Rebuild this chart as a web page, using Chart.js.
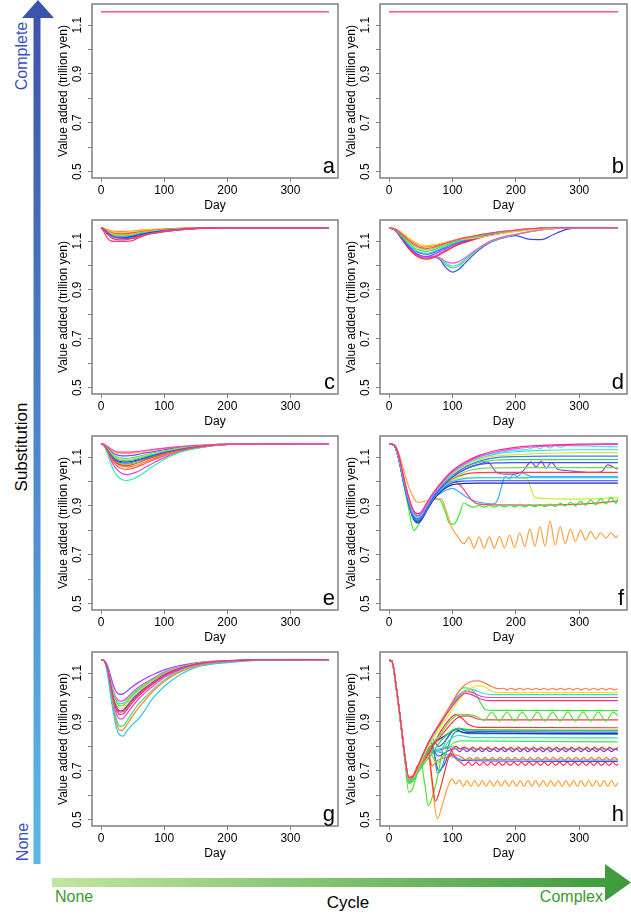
<!DOCTYPE html>
<html>
<head>
<meta charset="utf-8">
<script src="https://cdn.jsdelivr.net/npm/chart.js@4.4.1/dist/chart.umd.min.js"></script>
<style>
  body { margin: 0; width: 631px; height: 922px; background: #fff; position: relative; overflow: hidden; }
  canvas.p { position: absolute; }
  svg { position: absolute; left: 0; top: 0; }
  svg text { font-family: "Liberation Sans", Arial, sans-serif; }
</style>
</head>
<body>
<svg width="631" height="922">
  <defs>
    <linearGradient id="gv" x1="0" y1="1" x2="0" y2="0">
      <stop offset="0" stop-color="#5db8e8"/>
      <stop offset="1" stop-color="#3c52ac"/>
    </linearGradient>
    <linearGradient id="gh" x1="0" y1="0" x2="1" y2="0">
      <stop offset="0" stop-color="#c2e6a2"/>
      <stop offset="1" stop-color="#3b9a3a"/>
    </linearGradient>
  </defs>
  <polygon fill="url(#gv)" points="33.5,864 40.5,864 40.5,18 54,18 38,0 22,18 33.5,18"/>
  <polygon fill="url(#gh)" points="52,878 605,878 605,864 631,882.5 605,901 605,887 52,887"/>
  <text transform="translate(21,56) rotate(-90)" text-anchor="middle" dy="0.35em" font-size="16" fill="#3a4fc4">Complete</text>
  <text transform="translate(21,447) rotate(-90)" text-anchor="middle" dy="0.35em" font-size="17" fill="#000">Substitution</text>
  <text transform="translate(22,842) rotate(-90)" text-anchor="middle" dy="0.35em" font-size="16" fill="#3a4fc4">None</text>
  <text x="55" y="902" font-size="16" fill="#3c9a2c">None</text>
  <text x="348" y="908" text-anchor="middle" font-size="17" fill="#000">Cycle</text>
  <text x="603" y="902" text-anchor="end" font-size="16" fill="#3c9a2c">Complex</text>
</svg>
<script>
// axis ranges (R style, 4% padding)
const xMin = -14.4, xMax = 375.4;
const yMin = 0.4736, yMax = 1.1864;
const xTicks = [0, 100, 200, 300];
const yTicks = [0.5, 0.6, 0.7, 0.8, 0.9, 1.0, 1.1];
const yLabels = [0.5, 0.7, 0.9, 1.1];

// ---- panels a, b : no disruption, flat lines
const daysFlat = [0, 361];
const valsA = [[1.155, 1.155], [1.155, 1.155], [1.155, 1.155]];
const valsB = [[1.155, 1.155], [1.155, 1.155], [1.155, 1.155]];

// ---- panel c
const daysC = [0,5,10,15,20,30,40,50,60,70,80,100,120,140,160,200,361];
const valsC = [
  [1.155,1.135,1.112,1.101,1.099,1.099,1.099,1.102,1.114,1.124,1.131,1.139,1.145,1.149,1.152,1.155,1.155],
  [1.155,1.142,1.128,1.116,1.109,1.105,1.106,1.112,1.120,1.127,1.132,1.140,1.146,1.150,1.153,1.155,1.155],
  [1.155,1.148,1.136,1.125,1.117,1.112,1.110,1.111,1.117,1.124,1.130,1.139,1.145,1.149,1.152,1.155,1.155],
  [1.155,1.145,1.132,1.123,1.116,1.113,1.114,1.119,1.126,1.131,1.136,1.142,1.147,1.151,1.153,1.155,1.155],
  [1.155,1.147,1.136,1.127,1.121,1.117,1.117,1.121,1.127,1.132,1.137,1.143,1.148,1.151,1.153,1.155,1.155],
  [1.155,1.146,1.135,1.127,1.122,1.119,1.120,1.124,1.130,1.134,1.138,1.144,1.148,1.151,1.153,1.155,1.155],
  [1.155,1.148,1.139,1.131,1.126,1.122,1.123,1.126,1.131,1.136,1.139,1.145,1.149,1.152,1.154,1.155,1.155],
  [1.155,1.147,1.138,1.132,1.128,1.125,1.126,1.129,1.134,1.138,1.141,1.146,1.150,1.152,1.154,1.155,1.155],
  [1.155,1.149,1.141,1.135,1.131,1.128,1.128,1.131,1.136,1.140,1.143,1.147,1.150,1.153,1.154,1.155,1.155],
  [1.155,1.149,1.141,1.136,1.132,1.130,1.131,1.134,1.137,1.141,1.143,1.148,1.151,1.153,1.154,1.155,1.155],
  [1.155,1.150,1.144,1.139,1.137,1.135,1.136,1.138,1.141,1.144,1.146,1.149,1.151,1.153,1.154,1.155,1.155],
  [1.155,1.151,1.147,1.143,1.141,1.140,1.140,1.142,1.145,1.146,1.148,1.150,1.152,1.154,1.155,1.155,1.155],
  [1.155,1.149,1.138,1.128,1.121,1.116,1.115,1.117,1.122,1.128,1.133,1.141,1.146,1.150,1.153,1.155,1.155],
  [1.155,1.146,1.134,1.128,1.125,1.123,1.124,1.127,1.132,1.137,1.140,1.145,1.149,1.152,1.154,1.155,1.155]
];

// ---- panel d
const daysD = [0,10,20,30,40,50,60,70,80,90,100,110,120,140,160,180,200,220,240,260,280,300,361];
const valsD = [
  [1.155,1.148,1.128,1.105,1.085,1.073,1.070,1.075,1.083,1.092,1.100,1.107,1.113,1.124,1.133,1.140,1.145,1.150,1.153,1.155,1.155,1.155,1.155],
  [1.155,1.150,1.135,1.115,1.097,1.085,1.082,1.085,1.090,1.096,1.102,1.106,1.108,1.114,1.123,1.132,1.139,1.145,1.150,1.153,1.155,1.155,1.155],
  [1.155,1.149,1.131,1.110,1.091,1.079,1.076,1.080,1.087,1.095,1.102,1.109,1.115,1.125,1.133,1.140,1.145,1.150,1.153,1.155,1.155,1.155,1.155],
  [1.155,1.146,1.121,1.094,1.072,1.061,1.058,1.064,1.074,1.084,1.094,1.102,1.109,1.121,1.131,1.139,1.144,1.149,1.152,1.155,1.155,1.155,1.155],
  [1.155,1.146,1.118,1.088,1.065,1.053,1.050,1.057,1.068,1.079,1.089,1.098,1.106,1.119,1.129,1.137,1.143,1.149,1.152,1.155,1.155,1.155,1.155],
  [1.155,1.145,1.116,1.085,1.062,1.049,1.046,1.053,1.064,1.076,1.087,1.096,1.104,1.117,1.128,1.137,1.143,1.149,1.152,1.155,1.155,1.155,1.155],
  [1.155,1.144,1.112,1.078,1.054,1.040,1.037,1.045,1.057,1.070,1.082,1.092,1.100,1.114,1.126,1.135,1.142,1.148,1.152,1.155,1.155,1.155,1.155],
  [1.155,1.143,1.108,1.072,1.045,1.030,1.026,1.032,1.045,1.060,1.074,1.086,1.095,1.111,1.124,1.134,1.142,1.148,1.152,1.155,1.155,1.155,1.155],
  [1.155,1.144,1.110,1.075,1.050,1.034,1.030,1.036,1.049,1.063,1.077,1.088,1.097,1.112,1.125,1.135,1.142,1.148,1.152,1.155,1.155,1.155,1.155],
  [1.155,1.147,1.125,1.100,1.080,1.068,1.065,1.070,1.079,1.089,1.098,1.106,1.112,1.123,1.132,1.139,1.145,1.150,1.153,1.155,1.155,1.155,1.155],
  [1.155,1.144,1.112,1.078,1.054,1.040,1.036,1.037,1.032,1.016,1.010,1.016,1.032,1.070,1.100,1.117,1.128,1.138,1.146,1.151,1.154,1.155,1.155],
  [1.155,1.144,1.110,1.075,1.050,1.038,1.035,1.037,1.030,1.002,0.990,0.998,1.020,1.065,1.098,1.115,1.127,1.138,1.146,1.151,1.154,1.155,1.155],
  [1.155,1.144,1.111,1.076,1.052,1.039,1.035,1.037,1.031,1.008,0.998,1.005,1.026,1.068,1.099,1.116,1.128,1.138,1.146,1.151,1.154,1.155,1.155],
  [1.155,1.144,1.110,1.075,1.050,1.038,1.035,1.036,1.025,0.990,0.973,0.985,1.010,1.060,1.095,1.113,1.122,1.108,1.106,1.128,1.148,1.154,1.155]
];

// ---- panel e
const daysE = [0,5,10,15,20,25,30,40,50,60,70,80,100,120,140,160,200,361];
const valsE = [
  [1.155,1.152,1.144,1.134,1.127,1.122,1.120,1.120,1.121,1.124,1.127,1.131,1.137,1.142,1.146,1.149,1.153,1.155],
  [1.155,1.148,1.128,1.105,1.088,1.076,1.069,1.065,1.069,1.078,1.088,1.097,1.113,1.126,1.136,1.143,1.152,1.155],
  [1.155,1.145,1.115,1.075,1.045,1.025,1.012,1.004,1.010,1.023,1.040,1.058,1.090,1.115,1.130,1.140,1.152,1.155],
  [1.155,1.146,1.120,1.090,1.066,1.050,1.038,1.028,1.033,1.043,1.058,1.072,1.098,1.118,1.132,1.141,1.152,1.155],
  [1.155,1.147,1.126,1.102,1.085,1.073,1.065,1.060,1.062,1.070,1.080,1.090,1.108,1.122,1.133,1.141,1.152,1.155],
  [1.155,1.148,1.130,1.110,1.094,1.084,1.078,1.075,1.079,1.087,1.095,1.103,1.118,1.129,1.138,1.144,1.152,1.155],
  [1.155,1.149,1.133,1.115,1.101,1.092,1.087,1.085,1.088,1.095,1.102,1.109,1.122,1.132,1.140,1.145,1.153,1.155],
  [1.155,1.149,1.135,1.118,1.104,1.096,1.092,1.090,1.093,1.099,1.106,1.112,1.124,1.134,1.141,1.146,1.153,1.155],
  [1.155,1.150,1.136,1.120,1.108,1.100,1.097,1.095,1.098,1.103,1.109,1.115,1.126,1.135,1.142,1.146,1.153,1.155],
  [1.155,1.151,1.139,1.125,1.115,1.109,1.106,1.105,1.107,1.112,1.117,1.121,1.130,1.138,1.143,1.147,1.153,1.155],
  [1.155,1.148,1.131,1.112,1.097,1.088,1.082,1.080,1.083,1.090,1.098,1.106,1.120,1.130,1.139,1.145,1.152,1.155],
  [1.155,1.152,1.142,1.131,1.123,1.118,1.116,1.115,1.117,1.120,1.124,1.128,1.135,1.141,1.145,1.148,1.153,1.155],
  [1.155,1.148,1.129,1.108,1.091,1.080,1.073,1.070,1.074,1.082,1.091,1.100,1.115,1.127,1.137,1.144,1.152,1.155],
  [1.155,1.147,1.124,1.098,1.078,1.064,1.055,1.050,1.054,1.063,1.074,1.085,1.105,1.121,1.133,1.141,1.152,1.155]
];

// ---- panel g
const daysG = [0,5,10,15,20,25,30,35,40,50,60,70,80,100,120,140,160,200,250,361];
const valsG = [
  [1.155,1.150,1.117,1.052,0.988,0.952,0.940,0.943,0.957,0.988,1.015,1.037,1.056,1.091,1.114,1.130,1.141,1.149,1.154,1.155],
  [1.155,1.150,1.100,1.010,0.930,0.870,0.845,0.842,0.860,0.890,0.915,0.950,0.990,1.045,1.085,1.113,1.130,1.143,1.152,1.155],
  [1.155,1.150,1.105,1.020,0.945,0.890,0.865,0.868,0.885,0.925,0.960,0.990,1.020,1.065,1.098,1.120,1.134,1.146,1.153,1.155],
  [1.155,1.150,1.108,1.030,0.955,0.905,0.882,0.884,0.900,0.940,0.975,1.002,1.028,1.072,1.102,1.123,1.136,1.147,1.153,1.155],
  [1.155,1.150,1.112,1.040,0.970,0.928,0.912,0.915,0.930,0.965,0.995,1.020,1.042,1.082,1.108,1.127,1.138,1.148,1.153,1.155],
  [1.155,1.150,1.115,1.048,0.982,0.945,0.930,0.933,0.947,0.980,1.008,1.031,1.051,1.088,1.112,1.129,1.140,1.149,1.154,1.155],
  [1.155,1.150,1.118,1.055,0.992,0.958,0.945,0.948,0.962,0.993,1.019,1.040,1.058,1.093,1.115,1.131,1.141,1.149,1.154,1.155],
  [1.155,1.151,1.120,1.060,1.000,0.967,0.955,0.958,0.971,1.000,1.025,1.045,1.063,1.096,1.117,1.132,1.142,1.150,1.154,1.155],
  [1.155,1.151,1.122,1.065,1.008,0.976,0.965,0.968,0.980,1.008,1.031,1.050,1.067,1.098,1.118,1.133,1.142,1.150,1.154,1.155],
  [1.155,1.151,1.124,1.070,1.015,0.985,0.975,0.977,0.988,1.015,1.037,1.055,1.071,1.101,1.120,1.134,1.143,1.150,1.154,1.155],
  [1.155,1.151,1.126,1.075,1.022,0.994,0.985,0.987,0.997,1.022,1.043,1.060,1.075,1.104,1.122,1.135,1.143,1.150,1.154,1.155],
  [1.155,1.152,1.132,1.090,1.045,1.020,1.013,1.015,1.024,1.045,1.063,1.078,1.091,1.113,1.128,1.138,1.145,1.151,1.154,1.155]
];

// ---- panel f : smooth lines on a grid + irregular paths [day, value]
const daysF = [0,8,15,22,30,38,45,52,60,70,85,100,120,140,170,200,250,300,361];
const valsF = [
  [1.155,1.150,1.110,1.030,0.945,0.885,0.868,0.880,0.915,0.955,1.005,1.045,1.080,1.105,1.128,1.140,1.149,1.153,1.154],
  [1.155,1.150,1.105,1.025,0.940,0.878,0.860,0.872,0.908,0.950,1.000,1.040,1.075,1.100,1.122,1.135,1.145,1.150,1.152],
  [1.155,1.150,1.100,1.020,0.935,0.870,0.855,0.868,0.905,0.948,0.995,1.035,1.070,1.093,1.113,1.122,1.128,1.130,1.130],
  [1.155,1.150,1.102,1.022,0.938,0.874,0.858,0.870,0.906,0.948,0.993,1.030,1.065,1.088,1.105,1.110,1.115,1.118,1.118],
  [1.155,1.149,1.098,1.015,0.928,0.862,0.845,0.858,0.896,0.940,0.988,1.025,1.060,1.082,1.098,1.102,1.104,1.104,1.104],
  [1.155,1.149,1.100,1.018,0.932,0.866,0.850,0.862,0.900,0.943,0.990,1.025,1.058,1.077,1.088,1.090,1.090,1.090,1.090],
  [1.155,1.148,1.095,1.010,0.922,0.855,0.838,0.852,0.890,0.935,0.982,1.018,1.050,1.068,1.076,1.077,1.077,1.077,1.077],
  [1.155,1.148,1.097,1.012,0.925,0.858,0.842,0.855,0.893,0.937,0.980,1.012,1.040,1.052,1.056,1.057,1.057,1.057,1.057],
  [1.155,1.149,1.100,1.016,0.930,0.864,0.848,0.860,0.898,0.940,0.982,1.010,1.030,1.036,1.037,1.037,1.037,1.037,1.037],
  [1.155,1.148,1.096,1.010,0.923,0.856,0.840,0.853,0.890,0.932,0.975,1.000,1.012,1.016,1.016,1.016,1.016,1.016,1.016],
  [1.155,1.148,1.094,1.008,0.920,0.852,0.835,0.850,0.887,0.930,0.972,0.995,1.002,1.003,1.003,1.003,1.003,1.003,1.003],
  [1.155,1.147,1.092,1.005,0.916,0.848,0.830,0.846,0.883,0.925,0.966,0.987,0.992,0.993,0.993,0.993,0.993,0.993,0.993]
];
const pathsF = [
  [[0,1.155],[8,1.150],[15,1.107],[22,1.027],[30,0.942],[38,0.880],[45,0.862],[52,0.875],[60,0.910],[70,0.952],[85,1.000],[100,1.040],[120,1.075],[140,1.098],[170,1.118],[200,1.128],[222,1.133],[230,1.142],[238,1.134],[246,1.146],[254,1.137],[262,1.148],[270,1.140],[280,1.147],[300,1.146],[330,1.144],[361,1.142]],
  [[0,1.155],[8,1.149],[15,1.100],[22,1.015],[30,0.928],[38,0.862],[45,0.846],[52,0.858],[60,0.895],[70,0.938],[85,0.985],[100,1.020],[120,1.050],[140,1.070],[155,1.080],[171,1.035],[190,1.030],[210,1.040],[224,1.080],[232,1.060],[240,1.083],[248,1.055],[256,1.078],[266,1.050],[280,1.045],[300,1.040],[320,1.037],[335,1.040],[345,1.068],[353,1.060],[361,1.050]],
  [[0,1.155],[8,1.151],[15,1.118],[22,1.055],[30,0.985],[38,0.935],[45,0.915],[55,0.918],[70,0.925],[82,0.930],[90,0.880],[99,0.812],[108,0.775],[118,0.745],[126,0.772],[134,0.728],[142,0.772],[150,0.727],[158,0.773],[166,0.727],[174,0.775],[182,0.728],[190,0.780],[198,0.730],[206,0.790],[214,0.733],[222,0.805],[230,0.735],[238,0.815],[246,0.735],[254,0.838],[262,0.740],[270,0.815],[278,0.745],[286,0.805],[294,0.755],[302,0.800],[310,0.760],[318,0.795],[326,0.765],[334,0.790],[342,0.768],[350,0.790],[358,0.770],[361,0.780]],
  [[0,1.155],[8,1.148],[15,1.100],[22,1.000],[30,0.900],[39,0.800],[48,0.830],[60,0.890],[72,0.930],[80,0.925],[88,0.880],[95,0.830],[102,0.825],[110,0.860],[118,0.912],[126,0.900],[134,0.895],[142,0.902],[150,0.895],[158,0.902],[166,0.895],[174,0.902],[182,0.896],[190,0.903],[198,0.896],[206,0.903],[214,0.896],[222,0.904],[230,0.896],[238,0.905],[246,0.897],[254,0.907],[262,0.898],[270,0.910],[278,0.900],[286,0.915],[294,0.900],[302,0.920],[310,0.902],[318,0.925],[326,0.905],[334,0.930],[342,0.908],[350,0.935],[358,0.910],[361,0.930]],
  [[0,1.155],[8,1.148],[15,1.097],[22,1.012],[30,0.925],[38,0.858],[45,0.842],[52,0.856],[60,0.894],[70,0.936],[85,0.978],[100,1.000],[110,0.990],[120,0.960],[130,0.925],[140,0.908],[170,0.904],[220,0.903],[280,0.905],[320,0.910],[361,0.920]],
  [[0,1.155],[8,1.149],[15,1.099],[22,1.014],[30,0.927],[38,0.860],[45,0.843],[52,0.857],[60,0.894],[70,0.936],[85,0.980],[100,1.005],[120,1.015],[150,1.016],[200,1.015],[218,1.012],[224,0.970],[230,0.935],[250,0.930],[290,0.928],[330,0.930],[361,0.935]],
  [[0,1.155],[8,1.148],[15,1.096],[22,1.010],[30,0.922],[38,0.856],[45,0.840],[52,0.853],[60,0.890],[70,0.930],[80,0.950],[90,0.965],[100,0.972],[110,0.958],[120,0.940],[135,0.920],[150,0.912],[165,0.908],[172,0.930],[178,0.985],[183,1.020],[190,1.010],[196,1.030],[202,1.020],[210,1.035],[225,1.020],[245,1.020],[290,1.020],[361,1.020]]
];

// ---- panel h : paths [day, value]
const pathsH = [
  [[0,1.152],[4,1.150],[12,1.030],[20,0.865],[25,0.758],[31,0.672],[37,0.675],[45,0.715],[55,0.775],[65,0.830],[81,0.895],[97,0.955],[110,0.998],[120,1.018],[130,1.012],[145,0.993],[160,0.987],[361,0.987]],
  [[0,1.152],[4,1.150],[12,1.027],[20,0.862],[25,0.755],[31,0.672],[36,0.668],[42,0.695],[50,0.745],[65,0.830],[81,0.900],[97,0.970],[110,1.025],[120,1.052],[132,1.067],[142,1.068],[152,1.058],[162,1.045],[172,1.036],[180,1.038],[186,1.031],[193,1.038],[199,1.031],[206,1.038],[212,1.031],[219,1.038],[225,1.031],[232,1.038],[238,1.031],[245,1.038],[251,1.031],[258,1.038],[264,1.031],[271,1.038],[277,1.031],[284,1.038],[290,1.031],[297,1.038],[303,1.031],[310,1.038],[316,1.031],[323,1.038],[329,1.031],[336,1.038],[342,1.031],[349,1.038],[355,1.031],[361,1.036]],
  [[0,1.152],[4,1.150],[12,1.025],[20,0.860],[25,0.752],[31,0.668],[37,0.670],[45,0.708],[55,0.765],[65,0.815],[81,0.880],[97,0.940],[110,0.990],[125,1.030],[140,1.048],[150,1.045],[160,1.028],[170,1.020],[361,1.020]],
  [[0,1.152],[4,1.150],[12,1.026],[20,0.860],[25,0.752],[31,0.660],[37,0.665],[45,0.705],[55,0.768],[65,0.822],[81,0.895],[97,0.960],[110,1.005],[122,1.030],[132,1.032],[145,1.020],[160,1.012],[361,1.012]],
  [[0,1.152],[4,1.150],[12,1.028],[20,0.863],[25,0.756],[31,0.665],[37,0.668],[45,0.710],[55,0.772],[65,0.828],[81,0.900],[97,0.965],[110,1.010],[120,1.025],[130,1.022],[145,1.005],[160,1.000],[361,1.000]],
  [[0,1.152],[4,1.150],[12,1.025],[20,0.858],[25,0.750],[31,0.655],[37,0.660],[45,0.700],[55,0.765],[65,0.825],[81,0.890],[97,0.960],[110,1.025],[118,1.040],[126,1.038],[135,1.020],[145,0.975],[152,0.950],[165,0.947],[361,0.946]],
  [[0,1.152],[4,1.150],[12,1.024],[20,0.856],[25,0.748],[31,0.650],[37,0.655],[45,0.690],[55,0.750],[65,0.800],[81,0.850],[97,0.905],[110,0.930],[125,0.930],[140,0.920],[150,0.905],[162,0.940],[174,0.903],[186,0.940],[198,0.903],[210,0.940],[222,0.903],[234,0.940],[246,0.903],[258,0.940],[270,0.903],[282,0.940],[294,0.903],[306,0.940],[318,0.903],[330,0.940],[342,0.903],[354,0.940],[361,0.925]],
  [[0,1.152],[4,1.150],[12,1.026],[20,0.861],[25,0.754],[31,0.662],[37,0.668],[45,0.705],[55,0.750],[65,0.790],[81,0.840],[97,0.890],[110,0.920],[125,0.925],[140,0.912],[160,0.908],[361,0.908]],
  [[0,1.152],[4,1.150],[12,1.027],[20,0.862],[25,0.755],[31,0.668],[37,0.672],[45,0.700],[55,0.740],[65,0.780],[81,0.860],[95,0.910],[105,0.930],[115,0.915],[125,0.890],[140,0.878],[361,0.876]],
  [[0,1.152],[4,1.150],[12,1.025],[20,0.858],[25,0.750],[31,0.652],[37,0.660],[45,0.690],[55,0.730],[65,0.760],[81,0.820],[97,0.860],[110,0.875],[125,0.868],[361,0.865]],
  [[0,1.152],[4,1.150],[12,1.026],[20,0.860],[25,0.752],[31,0.658],[37,0.665],[45,0.700],[52,0.760],[60,0.800],[68,0.830],[78,0.800],[88,0.820],[100,0.862],[110,0.872],[122,0.862],[361,0.858]],
  [[0,1.152],[4,1.150],[12,1.026],[20,0.860],[25,0.753],[31,0.663],[37,0.668],[45,0.705],[55,0.755],[65,0.800],[80,0.830],[95,0.855],[105,0.868],[118,0.856],[361,0.852]],
  [[0,1.152],[4,1.150],[12,1.025],[20,0.859],[25,0.751],[31,0.655],[37,0.662],[45,0.700],[55,0.750],[65,0.790],[81,0.780],[97,0.830],[110,0.845],[130,0.836],[361,0.835]],
  [[0,1.152],[4,1.150],[12,1.024],[20,0.857],[25,0.749],[31,0.648],[37,0.655],[45,0.700],[55,0.760],[62,0.790],[70,0.750],[76,0.730],[85,0.760],[100,0.810],[115,0.822],[361,0.818]],
  [[0,1.152],[4,1.150],[12,1.027],[20,0.862],[25,0.755],[31,0.670],[37,0.675],[45,0.720],[55,0.765],[62,0.770],[68,0.660],[73,0.575],[80,0.620],[88,0.700],[96,0.770],[105,0.800],[112,0.790],[120,0.797],[126,0.785],[132,0.797],[138,0.785],[144,0.797],[150,0.785],[156,0.797],[162,0.785],[168,0.797],[174,0.785],[180,0.797],[186,0.785],[192,0.797],[198,0.785],[204,0.797],[210,0.785],[216,0.797],[222,0.785],[228,0.797],[234,0.785],[240,0.797],[246,0.785],[252,0.797],[258,0.785],[264,0.797],[270,0.785],[276,0.797],[282,0.785],[288,0.797],[294,0.785],[300,0.797],[306,0.785],[312,0.797],[318,0.785],[324,0.797],[330,0.785],[336,0.797],[342,0.785],[348,0.797],[354,0.785],[361,0.795]],
  [[0,1.152],[4,1.150],[12,1.025],[20,0.859],[25,0.751],[31,0.657],[37,0.663],[45,0.700],[55,0.760],[65,0.800],[78,0.760],[92,0.780],[105,0.790],[111,0.778],[117,0.789],[123,0.778],[129,0.789],[135,0.778],[141,0.789],[147,0.778],[153,0.789],[159,0.778],[165,0.789],[171,0.778],[177,0.789],[183,0.778],[189,0.789],[195,0.778],[201,0.789],[207,0.778],[213,0.789],[219,0.778],[225,0.789],[231,0.778],[237,0.789],[243,0.778],[249,0.789],[255,0.778],[261,0.789],[267,0.778],[273,0.789],[279,0.778],[285,0.789],[291,0.778],[297,0.789],[303,0.778],[309,0.789],[315,0.778],[321,0.789],[327,0.778],[333,0.789],[339,0.778],[345,0.789],[351,0.778],[357,0.789],[361,0.783]],
  [[0,1.152],[4,1.150],[12,1.026],[20,0.860],[25,0.752],[31,0.660],[37,0.666],[45,0.700],[55,0.750],[65,0.780],[80,0.790],[95,0.800],[110,0.790],[361,0.790]],
  [[0,1.152],[4,1.150],[12,1.026],[20,0.861],[25,0.753],[31,0.664],[37,0.670],[45,0.700],[55,0.750],[62,0.770],[68,0.720],[75,0.740],[90,0.755],[105,0.765],[115,0.755],[121,0.743],[127,0.755],[133,0.743],[139,0.755],[145,0.743],[151,0.755],[157,0.743],[163,0.755],[169,0.743],[175,0.755],[181,0.743],[187,0.755],[193,0.743],[199,0.755],[205,0.743],[211,0.755],[217,0.743],[223,0.755],[229,0.743],[235,0.755],[241,0.743],[247,0.755],[253,0.743],[259,0.755],[265,0.743],[271,0.755],[277,0.743],[283,0.755],[289,0.743],[295,0.755],[301,0.743],[307,0.755],[313,0.743],[319,0.755],[325,0.743],[331,0.755],[337,0.743],[343,0.755],[349,0.743],[355,0.755],[361,0.745]],
  [[0,1.152],[4,1.150],[12,1.025],[20,0.858],[25,0.750],[31,0.653],[37,0.660],[45,0.700],[55,0.760],[65,0.780],[81,0.775],[97,0.760],[110,0.748],[361,0.744]],
  [[0,1.152],[4,1.150],[12,1.027],[20,0.862],[25,0.754],[31,0.666],[37,0.670],[45,0.710],[55,0.755],[65,0.775],[80,0.785],[95,0.795],[105,0.750],[113,0.735],[119,0.722],[125,0.735],[131,0.722],[137,0.735],[143,0.722],[149,0.735],[155,0.722],[161,0.735],[167,0.722],[173,0.735],[179,0.722],[185,0.735],[191,0.722],[197,0.735],[203,0.722],[209,0.735],[215,0.722],[221,0.735],[227,0.722],[233,0.735],[239,0.722],[245,0.735],[251,0.722],[257,0.735],[263,0.722],[269,0.735],[275,0.722],[281,0.735],[287,0.722],[293,0.735],[299,0.722],[305,0.735],[311,0.722],[317,0.735],[323,0.722],[329,0.735],[335,0.722],[341,0.735],[347,0.722],[353,0.735],[359,0.722],[361,0.728]],
  [[0,1.152],[4,1.150],[12,1.027],[20,0.862],[25,0.755],[31,0.675],[37,0.680],[45,0.720],[55,0.750],[62,0.755],[68,0.640],[76,0.504],[84,0.560],[92,0.630],[99,0.668],[105,0.645],[111,0.662],[117,0.636],[123,0.660],[129,0.636],[135,0.660],[141,0.636],[147,0.660],[153,0.636],[159,0.660],[165,0.636],[171,0.660],[177,0.636],[183,0.660],[189,0.636],[195,0.660],[201,0.636],[207,0.660],[213,0.636],[219,0.660],[225,0.636],[231,0.660],[237,0.636],[243,0.660],[249,0.636],[255,0.660],[261,0.636],[267,0.660],[273,0.636],[279,0.660],[285,0.636],[291,0.660],[297,0.636],[303,0.660],[309,0.636],[315,0.660],[321,0.636],[327,0.660],[333,0.636],[339,0.660],[345,0.636],[351,0.660],[357,0.636],[361,0.650]],
  [[0,1.152],[4,1.150],[12,1.022],[20,0.852],[25,0.735],[31,0.612],[37,0.625],[45,0.700],[50,0.735],[56,0.650],[62,0.556],[69,0.600],[76,0.670],[86,0.800],[96,0.855],[105,0.872],[120,0.868],[361,0.865]],
  [[0,1.152],[4,1.150],[12,1.025],[20,0.858],[25,0.750],[31,0.655],[37,0.662],[45,0.700],[55,0.770],[65,0.828],[71,0.780],[76,0.690],[82,0.705],[92,0.790],[100,0.845],[110,0.862],[125,0.852],[361,0.850]],
  [[0,1.152],[4,1.150],[12,1.026],[20,0.860],[25,0.752],[31,0.659],[37,0.664],[45,0.700],[55,0.760],[65,0.815],[72,0.760],[78,0.700],[86,0.720],[96,0.770],[105,0.755],[115,0.742],[361,0.738]]
];

// ---- line colours (styles, kept apart from the values)
const colorsFlat = ['#ff5a84', '#ff6a94', '#f25a8c'];
const colorsC = ['#ff3d80','#ff4040','#9040ff','#2040ff','#20c0ff','#20e060','#a0e020','#ffb020','#ff8020','#e020e0','#ffd020','#ff9030','#4060ff','#30e0e0'];
const colorsD = ['#ff40a0','#f0d020','#ff8c20','#40e040','#30d0e0','#3050ff','#9040ff','#ff3030','#e040e0','#90e030','#ff60c0','#40e080','#30e0e0','#4040ff'];
const colorsE = ['#ff40c0','#ff4040','#30f0b0','#e040ff','#ff8030','#3060ff','#40e040','#e0e030','#30d0f0','#9040ff','#2030c0','#ffb020','#70e040','#ff6030'];
const colorsG = ['#ff3080','#30c8f0','#ff8030','#40e070','#e040e0','#ff3050','#3040ff','#e0e030','#60e030','#30e0d0','#ff40b0','#a040ff'];
const colorsF = ['#ff2f7a','#ff40ff','#30e0e0','#e8e030','#3080ff','#40e040','#4050ff','#70e050','#ff4040','#30d0ff','#3040ff','#2020c0',
                 '#40e8f0','#9040f0','#ffa040','#30f030','#ff4070','#c8f030','#40a8ff'];
const colorsH = ['#ff3080','#ff8040','#f0e020','#30e0e0','#e040f0','#40e040','#60e040','#ff3050','#ff3040','#30d030','#3060ff','#2030c0',
                 '#30e0d0','#50e050','#ff3030','#7040ff','#30c8f0','#ff7030','#30c0e0','#ff3060','#ffa030','#50e030','#20a0a0','#4040ff'];

const family = "'Liberation Sans', Arial, sans-serif";
const axisGray = '#7f7f7f';
const colL = [92, 380], colW = [246, 247];
const rowT = [4, 220, 436, 652];
const boxH = 174;

function gridLines(days, rows) {
  return rows.map(r => r.map((v, i) => ({ x: days[i], y: v })));
}
function pathLines(paths) {
  return paths.map(p => p.map(([x, y]) => ({ x, y })));
}

// box, rotated y tick labels and the panel letter
const framePlugin = {
  id: 'panelFrame',
  afterDraw(chart, args, opts) {
    const { ctx, chartArea: a } = chart;
    const y = chart.scales.y;
    ctx.save();
    ctx.strokeStyle = axisGray;
    ctx.lineWidth = 1.5;
    ctx.strokeRect(a.left, a.top, a.right - a.left, a.bottom - a.top);
    ctx.fillStyle = '#000';
    ctx.font = '12px ' + family;
    ctx.textAlign = 'center';
    ctx.textBaseline = 'middle';
    yLabels.forEach(v => {
      ctx.save();
      ctx.translate(a.left - 14, y.getPixelForValue(v));
      ctx.rotate(-Math.PI / 2);
      ctx.fillText(v.toFixed(1), 0, 0);
      ctx.restore();
    });
    ctx.font = '22px ' + family;
    ctx.textAlign = 'right';
    ctx.textBaseline = 'alphabetic';
    ctx.fillText(opts.letter, a.right - 3, a.bottom - 5);
    ctx.restore();
  }
};

function buildPanel(p) {
  const boxL = colL[p.col], boxW = colW[p.col], boxT = rowT[p.row];
  const w = boxW + 44 + 4, h = 2 + boxH + 36;
  const cv = document.createElement('canvas');
  cv.className = 'p';
  cv.width = w; cv.height = h;
  cv.style.left = (boxL - 44) + 'px';
  cv.style.top = (boxT - 2) + 'px';
  cv.style.width = w + 'px';
  cv.style.height = h + 'px';
  document.body.appendChild(cv);

  const datasets = p.lines.map((pts, i) => ({
    data: pts,
    borderColor: p.colors[i % p.colors.length],
    borderWidth: 1.2,
    pointRadius: 0,
    fill: false,
    cubicInterpolationMode: 'monotone'
  }));

  new Chart(cv, {
    type: 'line',
    data: { datasets },
    options: {
      responsive: false,
      animation: false,
      devicePixelRatio: 1,
      parsing: false,
      layout: { padding: { left: 0, right: 4, top: 2, bottom: 0 } },
      plugins: {
        legend: { display: false },
        tooltip: { enabled: false },
        panelFrame: { letter: p.letter }
      },
      scales: {
        x: {
          type: 'linear', min: xMin, max: xMax,
          afterBuildTicks: s => { s.ticks = xTicks.map(v => ({ value: v })); },
          afterFit: s => { s.height = 36; },
          grid: { drawOnChartArea: false, drawTicks: true, tickLength: 4, color: axisGray },
          border: { display: false },
          ticks: { font: { size: 12, family }, color: '#000', padding: 1, maxRotation: 0, autoSkip: false },
          title: { display: true, text: 'Day', font: { size: 12, family }, color: '#000', padding: { top: 0, bottom: 1 } }
        },
        y: {
          type: 'linear', min: yMin, max: yMax,
          afterBuildTicks: s => { s.ticks = yTicks.map(v => ({ value: v })); },
          afterFit: s => { s.width = 44; },
          grid: { drawOnChartArea: false, drawTicks: true, tickLength: 4, color: axisGray },
          border: { display: false },
          ticks: { display: false },
          title: { display: true, text: 'Value added (trillion yen)', font: { size: 12, family }, color: '#000', padding: { top: 8, bottom: 0 } }
        }
      }
    },
    plugins: [framePlugin]
  });
}

const panels = [
  { letter: 'a', col: 0, row: 0, lines: gridLines(daysFlat, valsA), colors: colorsFlat },
  { letter: 'b', col: 1, row: 0, lines: gridLines(daysFlat, valsB), colors: colorsFlat },
  { letter: 'c', col: 0, row: 1, lines: gridLines(daysC, valsC), colors: colorsC },
  { letter: 'd', col: 1, row: 1, lines: gridLines(daysD, valsD), colors: colorsD },
  { letter: 'e', col: 0, row: 2, lines: gridLines(daysE, valsE), colors: colorsE },
  { letter: 'f', col: 1, row: 2, lines: gridLines(daysF, valsF).concat(pathLines(pathsF)), colors: colorsF },
  { letter: 'g', col: 0, row: 3, lines: gridLines(daysG, valsG), colors: colorsG },
  { letter: 'h', col: 1, row: 3, lines: pathLines(pathsH), colors: colorsH }
];
panels.forEach(buildPanel);
</script>
</body>
</html>
